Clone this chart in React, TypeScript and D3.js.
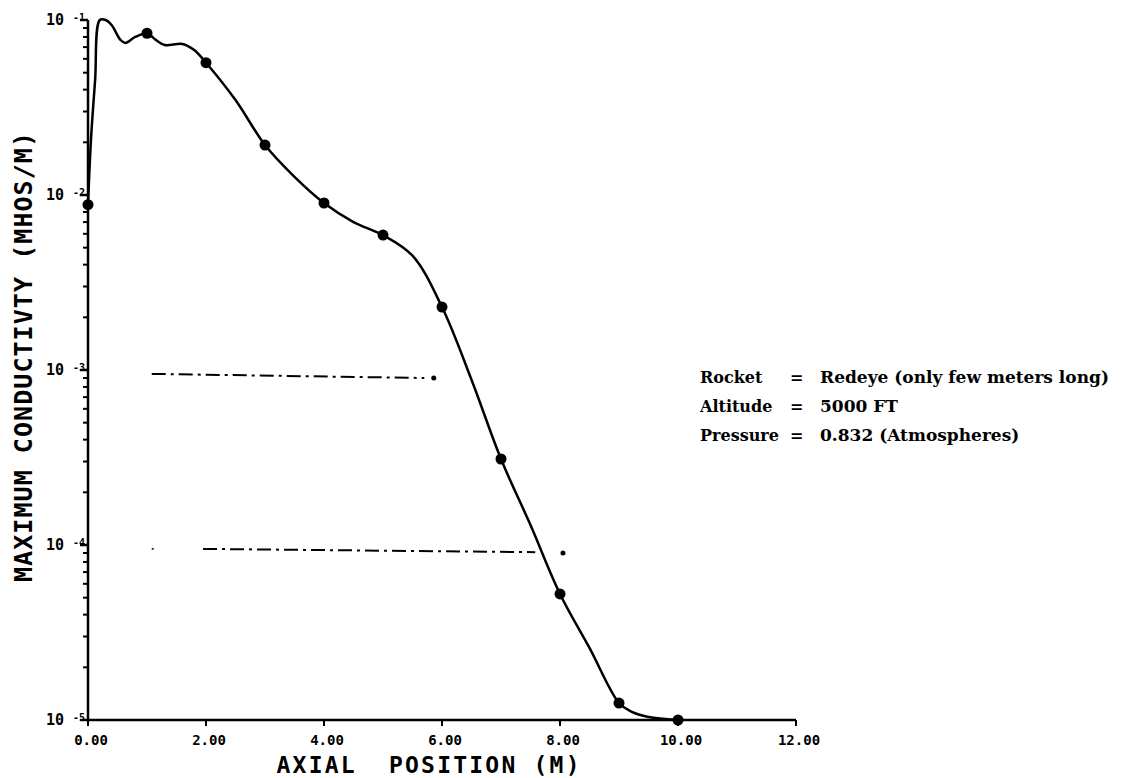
import React from 'react'
import * as d3 from 'd3'

// main conductivity curve (axial position in m, conductivity in mhos/m)
const curveX = [0, 0.05, 0.12, 0.2, 0.3, 0.4, 0.55, 0.63, 0.8, 1.0, 1.15, 1.3, 1.6, 1.8, 2.0, 2.5, 3.0, 3.5, 4.0, 4.5, 5.0, 5.5, 6.0, 6.5, 7.0, 7.5, 8.0, 8.5, 9.0, 9.2, 9.5, 10.0]
const curveY = [8.8e-3, 2.06e-2, 4.5e-2, 0.1, 0.1, 0.0936, 0.077, 0.074, 0.08, 0.084, 0.077, 0.072, 0.073, 0.0674, 0.057, 0.0349, 0.0193, 0.0127, 0.009, 0.007, 0.0059, 0.0045, 0.00229, 8.8e-4, 3.1e-4, 1.3e-4, 5.25e-5, 2.58e-5, 1.25e-5, 1.12e-5, 1.04e-5, 1e-5]

// marked points
const markX = [0, 1, 2, 3, 4, 5, 6, 7, 8, 9, 10]
const markY = [8.8e-3, 0.084, 0.057, 0.0193, 0.009, 0.0059, 0.00229, 3.1e-4, 5.25e-5, 1.25e-5, 1e-5]

// dash-dot reference lines
const refA_X = [1.08, 5.7]
const refA_Y = [9.5e-4, 9.0e-4]
const refA_dot = [5.86, 9.0e-4]
const refB_X = [1.95, 7.58]
const refB_Y = [9.5e-5, 9.1e-5]
const refB_lead = [1.08, 1.16]
const refB_dot = [8.05, 9.0e-5]

const xTicks = [0, 2, 4, 6, 8, 10, 12]
const yDecades = [1e-1, 1e-2, 1e-3, 1e-4, 1e-5]
const yExp = ['-1', '-2', '-3', '-4', '-5']

const notes = [
  ['Rocket', 'Redeye (only few meters long)'],
  ['Altitude', '5000 FT'],
  ['Pressure', '0.832 (Atmospheres)'],
]

const mono = '"DejaVu Sans Mono", monospace'

export default function App() {
  const x = d3.scaleLinear().domain([0, 12]).range([88, 796])
  const y = d3.scaleLog().domain([1e-5, 1e-1]).range([720, 20])

  const line = d3.line<number>()
    .x((d, i) => x(curveX[i]))
    .y(d => y(d))
    .curve(d3.curveCatmullRom.alpha(0.5))

  const minor: number[] = []
  for (let e = -5; e < -1; e++) {
    for (let k = 2; k <= 9; k++) minor.push(k * Math.pow(10, e))
  }

  const refLine = (xs: number[], ys: number[]) =>
    d3.line<number>().x((d, i) => x(xs[i])).y(d => y(d))(ys) || ''

  return (
    <svg width={1140} height={778} style={{ position: 'absolute', left: 0, top: 0, background: '#fff' }}>
      {/* axes */}
      <line x1={x(0)} x2={x(0)} y1={y(1e-1)} y2={y(1e-5)} stroke="#000" strokeWidth={2.5} />
      <line x1={x(0)} x2={x(12)} y1={y(1e-5)} y2={y(1e-5)} stroke="#000" strokeWidth={2.5} />
      {minor.map((v, i) => (
        <line key={'m' + i} x1={x(0) - 5} x2={x(0)} y1={y(v)} y2={y(v)} stroke="#000" strokeWidth={2} />
      ))}
      {yDecades.map((v, i) => (
        <g key={'d' + i}>
          <line x1={x(0) - 8} x2={x(0)} y1={y(v)} y2={y(v)} stroke="#000" strokeWidth={2.5} />
          <text x={64} y={y(v) + 5} textAnchor="end" fontFamily={mono} fontWeight="bold" fontSize={15}>10</text>
          <text x={73} y={y(v) + 1} fontFamily={mono} fontWeight="bold" fontSize={10}>{yExp[i]}</text>
        </g>
      ))}
      {xTicks.map(t => (
        <g key={'x' + t}>
          <line x1={x(t)} x2={x(t)} y1={y(1e-5)} y2={y(1e-5) + 6} stroke="#000" strokeWidth={2} />
          <text x={x(t) + 3} y={745} textAnchor="middle" fontFamily={mono} fontWeight="bold" fontSize={14}>{t.toFixed(2)}</text>
        </g>
      ))}
      <text x={428} y={773} textAnchor="middle" fontFamily={mono} fontWeight="bold" fontSize={23}
        textLength={303} lengthAdjust="spacing" style={{ whiteSpace: 'pre' }}>AXIAL  POSITION (M)</text>
      <text transform="translate(32,357) rotate(-90)" textAnchor="middle" fontFamily={mono} fontWeight="bold" fontSize={25}
        textLength={450} lengthAdjust="spacing">MAXIMUM CONDUCTIVTY (MHOS/M)</text>

      {/* reference lines */}
      <path d={refLine(refA_X, refA_Y)} fill="none" stroke="#000" strokeWidth={2} strokeDasharray="14 5 3 5" />
      <circle cx={x(refA_dot[0])} cy={y(refA_dot[1])} r={2.5} fill="#000" />
      <path d={refLine(refB_X, refB_Y)} fill="none" stroke="#000" strokeWidth={2} strokeDasharray="14 5 3 5" />
      <path d={refLine(refB_lead, [9.5e-5, 9.5e-5])} fill="none" stroke="#000" strokeWidth={1.5} strokeDasharray="2 3" />
      <circle cx={x(refB_dot[0])} cy={y(refB_dot[1])} r={2.5} fill="#000" />

      {/* main curve */}
      <path d={line(curveY) || ''} fill="none" stroke="#000" strokeWidth={2.5} />
      {markX.map((m, i) => (
        <circle key={'p' + i} cx={x(m)} cy={y(markY[i])} r={5.5} fill="#000" />
      ))}

      {/* notes */}
      {notes.map((n, i) => (
        <g key={'n' + i} fontFamily='"DejaVu Serif", serif' fontWeight="bold" fontSize={16}>
          <text x={700} y={383 + i * 29}>{n[0]}</text>
          <text x={790} y={383 + i * 29}>=</text>
          <text x={820} y={383 + i * 29} fontSize={17}>{n[1]}</text>
        </g>
      ))}
    </svg>
  )
}
